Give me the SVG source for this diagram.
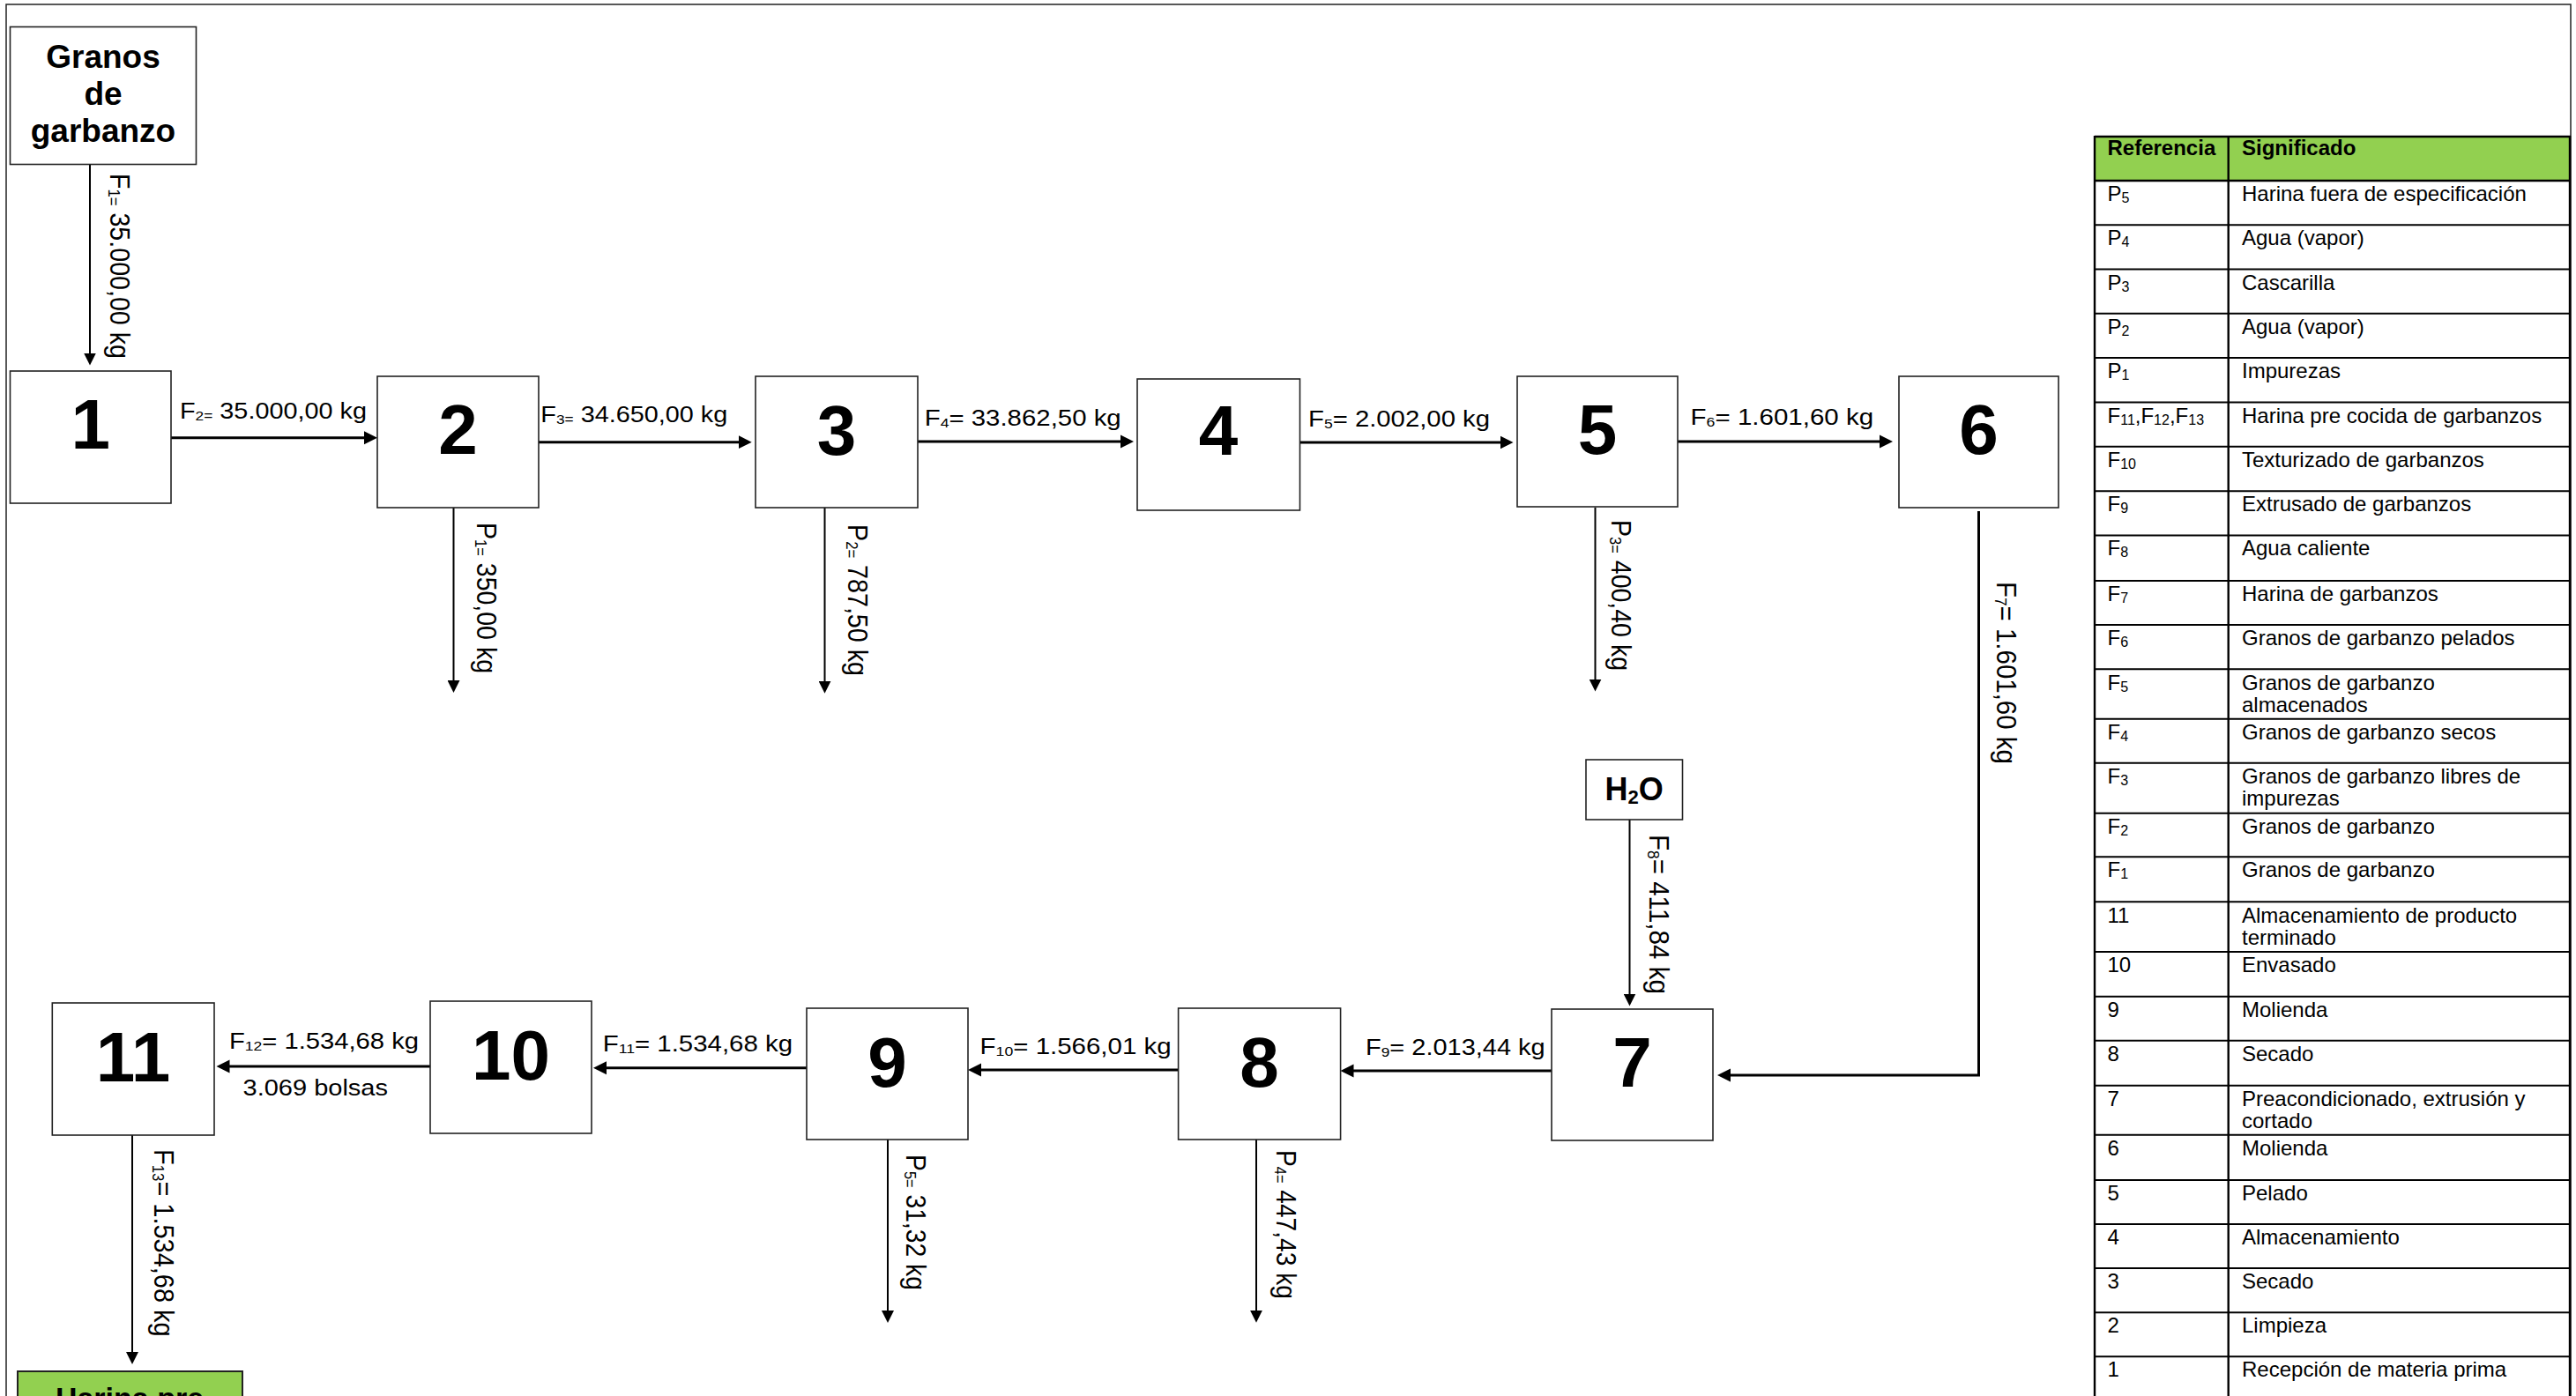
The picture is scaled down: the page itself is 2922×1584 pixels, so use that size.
<svg xmlns="http://www.w3.org/2000/svg" width="2922" height="1584" viewBox="0 0 2922 1584">
<defs>
<style>
text{font-family:"Liberation Sans",Arial,sans-serif;fill:#000}
.box{fill:#fff;stroke:#222;stroke-width:1.6}
.num{font-size:80px;font-weight:bold;text-anchor:middle}
.title{font-size:37px;font-weight:bold;text-anchor:middle}
.lbl{font-size:25px}
.vl{font-size:31px}
.s{font-size:15px}
.vs{font-size:18px}
.ts{font-size:16px}
.c{fill:none;stroke:#000;stroke-width:3}
.ct{fill:none;stroke:#000;stroke-width:2}
.tl{stroke:#000;stroke-width:2}
.tt{font-size:24px}
.th{font-size:24px;font-weight:bold}
</style>
<marker id="ah" markerUnits="userSpaceOnUse" markerWidth="16" markerHeight="16" viewBox="0 0 16 16" refX="7" refY="8" orient="auto"><path d="M0,0.5 L15,8 L0,15.5 z" fill="#000"/></marker>
<marker id="at" markerUnits="userSpaceOnUse" markerWidth="14" markerHeight="14" viewBox="0 0 14 14" refX="6" refY="7" orient="auto"><path d="M0,0 L14,7 L0,14 z" fill="#000"/></marker>
</defs>
<rect x="0" y="0" width="2922" height="1584" fill="#fff"/>
<rect x="7" y="5" width="2909" height="1600" fill="none" stroke="#222" stroke-width="1.5"/>

<g id="connectors">
<path class="ct" d="M102,187 V406.5" marker-end="url(#at)"/>
<path class="c" d="M194,496.7 H420" marker-end="url(#ah)"/>
<path class="c" d="M611,501.7 H844.7" marker-end="url(#ah)"/>
<path class="c" d="M1041,501 H1278" marker-end="url(#ah)"/>
<path class="c" d="M1474.5,502 H1708.5" marker-end="url(#ah)"/>
<path class="c" d="M1903,501 H2139" marker-end="url(#ah)"/>
<path class="ct" d="M514.5,576 V778" marker-end="url(#at)"/>
<path class="ct" d="M935.5,576 V778.7" marker-end="url(#at)"/>
<path class="ct" d="M1809.5,576 V776.6" marker-end="url(#at)"/>
<path class="c" d="M2244.5,580 V1220 H1956" marker-end="url(#ah)"/>
<path class="ct" d="M1848.5,930 V1133.5" marker-end="url(#at)"/>
<path class="c" d="M1760,1215 H1528.5" marker-end="url(#ah)"/>
<path class="c" d="M1336.6,1214 H1106" marker-end="url(#ah)"/>
<path class="c" d="M915,1211.7 H681" marker-end="url(#ah)"/>
<path class="c" d="M488,1210 H253.5" marker-end="url(#ah)"/>
<path class="ct" d="M1007,1293 V1493" marker-end="url(#at)"/>
<path class="ct" d="M1425,1293 V1492.7" marker-end="url(#at)"/>
<path class="ct" d="M150,1288 V1540" marker-end="url(#at)"/>

<text class="vl" transform="translate(125,197) rotate(90)" textLength="210" lengthAdjust="spacingAndGlyphs">F<tspan class="vs" dy="2">1=</tspan><tspan dy="-2"> 35.000,00 kg</tspan></text>
<text class="lbl" x="204" y="474.5" textLength="212" lengthAdjust="spacingAndGlyphs">F<tspan class="s" dy="2">2=</tspan><tspan dy="-2"> 35.000,00 kg</tspan></text>
<text class="lbl" x="613.3" y="479.3" textLength="212" lengthAdjust="spacingAndGlyphs">F<tspan class="s" dy="2">3=</tspan><tspan dy="-2"> 34.650,00 kg</tspan></text>
<text class="lbl" x="1048.7" y="482.6" textLength="223" lengthAdjust="spacingAndGlyphs">F<tspan class="s" dy="2">4</tspan><tspan dy="-2">= 33.862,50 kg</tspan></text>
<text class="lbl" x="1484" y="484.3" textLength="206" lengthAdjust="spacingAndGlyphs">F<tspan class="s" dy="2">5</tspan><tspan dy="-2">= 2.002,00 kg</tspan></text>
<text class="lbl" x="1917.6" y="482" textLength="207.5" lengthAdjust="spacingAndGlyphs">F<tspan class="s" dy="2">6</tspan><tspan dy="-2">= 1.601,60 kg</tspan></text>
<text class="vl" transform="translate(541,593) rotate(90)" textLength="171" lengthAdjust="spacingAndGlyphs">P<tspan class="vs" dy="2">1=</tspan><tspan dy="-2"> 350,00 kg</tspan></text>
<text class="vl" transform="translate(962,595) rotate(90)" textLength="172" lengthAdjust="spacingAndGlyphs">P<tspan class="vs" dy="2">2=</tspan><tspan dy="-2"> 787,50 kg</tspan></text>
<text class="vl" transform="translate(1828,590) rotate(90)" textLength="171" lengthAdjust="spacingAndGlyphs">P<tspan class="vs" dy="2">3=</tspan><tspan dy="-2"> 400,40 kg</tspan></text>
<text class="vl" transform="translate(2265,660) rotate(90)" textLength="207" lengthAdjust="spacingAndGlyphs">F<tspan class="vs" dy="2">7</tspan><tspan dy="-2">= 1.601,60 kg</tspan></text>
<text class="vl" transform="translate(1871,947) rotate(90)" textLength="181" lengthAdjust="spacingAndGlyphs">F<tspan class="vs" dy="2">8</tspan><tspan dy="-2">= 411,84 kg</tspan></text>
<text class="lbl" x="1549" y="1196.7" textLength="203.7" lengthAdjust="spacingAndGlyphs">F<tspan class="s" dy="2">9</tspan><tspan dy="-2">= 2.013,44 kg</tspan></text>
<text class="lbl" x="1111.6" y="1196" textLength="217" lengthAdjust="spacingAndGlyphs">F<tspan class="s" dy="2">10</tspan><tspan dy="-2">= 1.566,01 kg</tspan></text>
<text class="lbl" x="683.7" y="1193" textLength="215.3" lengthAdjust="spacingAndGlyphs">F<tspan class="s" dy="2">11</tspan><tspan dy="-2">= 1.534,68 kg</tspan></text>
<text class="lbl" x="260" y="1190" textLength="215" lengthAdjust="spacingAndGlyphs">F<tspan class="s" dy="2">12</tspan><tspan dy="-2">= 1.534,68 kg</tspan></text>
<text class="lbl" x="275.5" y="1243" textLength="164.5" lengthAdjust="spacingAndGlyphs">3.069 bolsas</text>
<text class="vl" transform="translate(1028,1310) rotate(90)" textLength="154" lengthAdjust="spacingAndGlyphs">P<tspan class="vs" dy="2">5=</tspan><tspan dy="-2"> 31,32 kg</tspan></text>
<text class="vl" transform="translate(1448,1305) rotate(90)" textLength="169" lengthAdjust="spacingAndGlyphs">P<tspan class="vs" dy="2">4=</tspan><tspan dy="-2"> 447,43 kg</tspan></text>
<text class="vl" transform="translate(175,1304) rotate(90)" textLength="212.7" lengthAdjust="spacingAndGlyphs">F<tspan class="vs" dy="2">13</tspan><tspan dy="-2">= 1.534,68 kg</tspan></text>
</g>

<g id="granos"><rect class="box" x="11.5" y="30.5" width="211" height="156"/>
<text class="title" x="117" y="76.5">Granos</text><text class="title" x="117" y="118.6">de</text><text class="title" x="117" y="160.7">garbanzo</text></g>
<g id="n1"><rect class="box" x="11.5" y="421" width="182.5" height="150"/><text class="num" x="102.7" y="509">1</text></g>
<g id="n2"><rect class="box" x="428" y="427" width="183" height="149"/><text class="num" x="519.5" y="515">2</text></g>
<g id="n3"><rect class="box" x="857" y="427" width="184" height="149"/><text class="num" x="949" y="515.5">3</text></g>
<g id="n4"><rect class="box" x="1290" y="430" width="184.5" height="149"/><text class="num" x="1382" y="516.4">4</text></g>
<g id="n5"><rect class="box" x="1721" y="427" width="182" height="148"/><text class="num" x="1812" y="515">5</text></g>
<g id="n6"><rect class="box" x="2154" y="427" width="181" height="149"/><text class="num" x="2244.5" y="515">6</text></g>
<g id="h2o"><rect class="box" x="1799" y="862" width="109.5" height="68"/><text x="1853.7" y="908" style="font-size:36px;font-weight:bold;text-anchor:middle">H<tspan dy="4" style="font-size:22px">2</tspan><tspan dy="-4">O</tspan></text></g>
<g id="n7"><rect class="box" x="1760" y="1145" width="183" height="149"/><text class="num" x="1851.5" y="1232.5">7</text></g>
<g id="n8"><rect class="box" x="1336.6" y="1144" width="184" height="149"/><text class="num" x="1428.6" y="1232.5">8</text></g>
<g id="n9"><rect class="box" x="915" y="1144" width="183" height="149"/><text class="num" x="1006.5" y="1232.5">9</text></g>
<g id="n10"><rect class="box" x="488" y="1136" width="183" height="150"/><text class="num" x="579.5" y="1225">10</text></g>
<g id="n11"><rect class="box" x="59.3" y="1138" width="183.7" height="150"/><text class="num" x="151" y="1226.7">11</text></g>
<g id="producto"><rect x="20" y="1556" width="255" height="60" fill="#92D050" stroke="#222" stroke-width="2"/><text x="147" y="1598" style="font-size:34px;font-weight:bold;text-anchor:middle">Harina pre</text></g>

<g id="legend">
<rect x="2376" y="155" width="539.5" height="50" fill="#92D050"/>
<g class="tl">
<line x1="2376" y1="155" x2="2916" y2="155" stroke-width="2.6"/>
<line x1="2376" y1="205" x2="2916" y2="205" stroke-width="2.6"/>
<line x1="2376" y1="255.3" x2="2916" y2="255.3"/>
<line x1="2376" y1="305.6" x2="2916" y2="305.6"/>
<line x1="2376" y1="355.8" x2="2916" y2="355.8"/>
<line x1="2376" y1="406" x2="2916" y2="406"/>
<line x1="2376" y1="456.5" x2="2916" y2="456.5"/>
<line x1="2376" y1="506.8" x2="2916" y2="506.8"/>
<line x1="2376" y1="557.2" x2="2916" y2="557.2"/>
<line x1="2376" y1="607.4" x2="2916" y2="607.4"/>
<line x1="2376" y1="659" x2="2916" y2="659"/>
<line x1="2376" y1="709" x2="2916" y2="709"/>
<line x1="2376" y1="759.3" x2="2916" y2="759.3"/>
<line x1="2376" y1="815.7" x2="2916" y2="815.7"/>
<line x1="2376" y1="865.7" x2="2916" y2="865.7"/>
<line x1="2376" y1="922.7" x2="2916" y2="922.7"/>
<line x1="2376" y1="972.3" x2="2916" y2="972.3"/>
<line x1="2376" y1="1023.3" x2="2916" y2="1023.3"/>
<line x1="2376" y1="1080" x2="2916" y2="1080"/>
<line x1="2376" y1="1130.7" x2="2916" y2="1130.7"/>
<line x1="2376" y1="1180.7" x2="2916" y2="1180.7"/>
<line x1="2376" y1="1231.7" x2="2916" y2="1231.7"/>
<line x1="2376" y1="1287.7" x2="2916" y2="1287.7"/>
<line x1="2376" y1="1339" x2="2916" y2="1339"/>
<line x1="2376" y1="1389" x2="2916" y2="1389"/>
<line x1="2376" y1="1439" x2="2916" y2="1439"/>
<line x1="2376" y1="1489.3" x2="2916" y2="1489.3"/>
<line x1="2376" y1="1539.3" x2="2916" y2="1539.3"/>
<line x1="2376" y1="154" x2="2376" y2="1600" stroke-width="2.4"/>
<line x1="2527.7" y1="154" x2="2527.7" y2="1600" stroke-width="2.4"/>
<line x1="2915" y1="154" x2="2915" y2="1600" stroke-width="2.4"/>
</g>
<text class="th" x="2390.5" y="176">Referencia</text><text class="th" x="2543" y="176">Significado</text>
<text class="tt" x="2390.5" y="228.3">P<tspan class="ts" dy="2">5</tspan></text><text class="tt" x="2543" y="228.3">Harina fuera de especificación</text>
<text class="tt" x="2390.5" y="278.3">P<tspan class="ts" dy="2">4</tspan></text><text class="tt" x="2543" y="278.3">Agua (vapor)</text>
<text class="tt" x="2390.5" y="328.6">P<tspan class="ts" dy="2">3</tspan></text><text class="tt" x="2543" y="328.6">Cascarilla</text>
<text class="tt" x="2390.5" y="378.8">P<tspan class="ts" dy="2">2</tspan></text><text class="tt" x="2543" y="378.8">Agua (vapor)</text>
<text class="tt" x="2390.5" y="429">P<tspan class="ts" dy="2">1</tspan></text><text class="tt" x="2543" y="429">Impurezas</text>
<text class="tt" x="2390.5" y="479.5">F<tspan class="ts" dy="2">11</tspan><tspan dy="-2">,F</tspan><tspan class="ts" dy="2">12</tspan><tspan dy="-2">,F</tspan><tspan class="ts" dy="2">13</tspan></text><text class="tt" x="2543" y="479.5">Harina pre cocida de garbanzos</text>
<text class="tt" x="2390.5" y="529.8">F<tspan class="ts" dy="2">10</tspan></text><text class="tt" x="2543" y="529.8">Texturizado de garbanzos</text>
<text class="tt" x="2390.5" y="580.2">F<tspan class="ts" dy="2">9</tspan></text><text class="tt" x="2543" y="580.2">Extrusado de garbanzos</text>
<text class="tt" x="2390.5" y="630.4">F<tspan class="ts" dy="2">8</tspan></text><text class="tt" x="2543" y="630.4">Agua caliente</text>
<text class="tt" x="2390.5" y="682">F<tspan class="ts" dy="2">7</tspan></text><text class="tt" x="2543" y="682">Harina de garbanzos</text>
<text class="tt" x="2390.5" y="732">F<tspan class="ts" dy="2">6</tspan></text><text class="tt" x="2543" y="732">Granos de garbanzo pelados</text>
<text class="tt" x="2390.5" y="783">F<tspan class="ts" dy="2">5</tspan></text><text class="tt" x="2543" y="783">Granos de garbanzo</text><text class="tt" x="2543" y="808">almacenados</text>
<text class="tt" x="2390.5" y="838.7">F<tspan class="ts" dy="2">4</tspan></text><text class="tt" x="2543" y="838.7">Granos de garbanzo secos</text>
<text class="tt" x="2390.5" y="889">F<tspan class="ts" dy="2">3</tspan></text><text class="tt" x="2543" y="889">Granos de garbanzo libres de</text><text class="tt" x="2543" y="914">impurezas</text>
<text class="tt" x="2390.5" y="945.7">F<tspan class="ts" dy="2">2</tspan></text><text class="tt" x="2543" y="945.7">Granos de garbanzo</text>
<text class="tt" x="2390.5" y="995.3">F<tspan class="ts" dy="2">1</tspan></text><text class="tt" x="2543" y="995.3">Granos de garbanzo</text>
<text class="tt" x="2390.5" y="1047">11</text><text class="tt" x="2543" y="1047">Almacenamiento de producto</text><text class="tt" x="2543" y="1072">terminado</text>
<text class="tt" x="2390.5" y="1103">10</text><text class="tt" x="2543" y="1103">Envasado</text>
<text class="tt" x="2390.5" y="1153.7">9</text><text class="tt" x="2543" y="1153.7">Molienda</text>
<text class="tt" x="2390.5" y="1203.7">8</text><text class="tt" x="2543" y="1203.7">Secado</text>
<text class="tt" x="2390.5" y="1255">7</text><text class="tt" x="2543" y="1255">Preacondicionado, extrusión y</text><text class="tt" x="2543" y="1280">cortado</text>
<text class="tt" x="2390.5" y="1310.7">6</text><text class="tt" x="2543" y="1310.7">Molienda</text>
<text class="tt" x="2390.5" y="1362">5</text><text class="tt" x="2543" y="1362">Pelado</text>
<text class="tt" x="2390.5" y="1412">4</text><text class="tt" x="2543" y="1412">Almacenamiento</text>
<text class="tt" x="2390.5" y="1462.3">3</text><text class="tt" x="2543" y="1462.3">Secado</text>
<text class="tt" x="2390.5" y="1512.3">2</text><text class="tt" x="2543" y="1512.3">Limpieza</text>
<text class="tt" x="2390.5" y="1562.3">1</text><text class="tt" x="2543" y="1562.3">Recepción de materia prima</text>
</g>
</svg>
